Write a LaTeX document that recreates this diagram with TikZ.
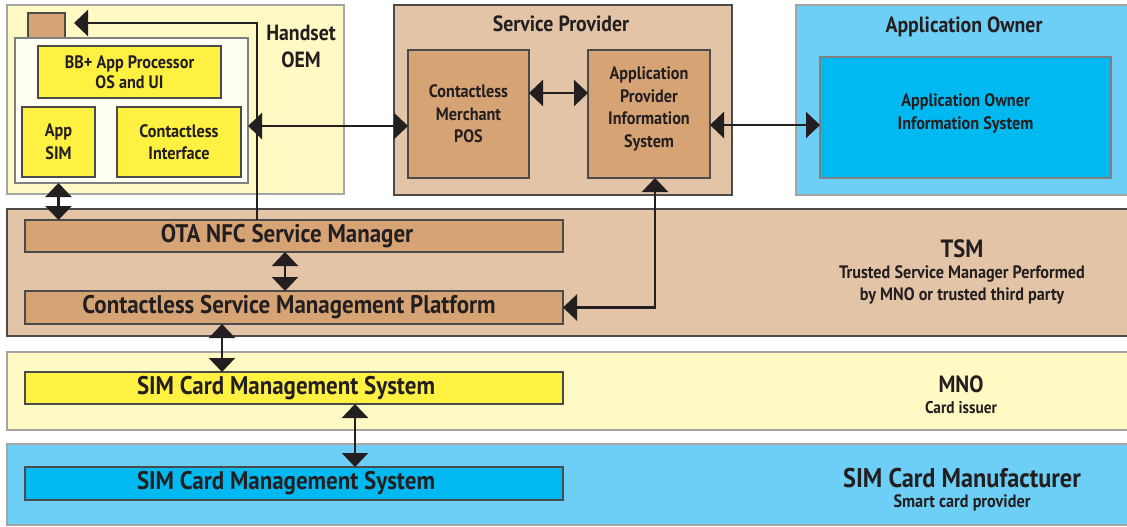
\documentclass[tikz,border=0pt]{standalone}
\usepackage{fontspec}
\setmainfont{PT Sans}[FakeStretch=0.9]
\usetikzlibrary{arrows.meta}
\usetikzlibrary{positioning}

\definecolor{paleyellow}{RGB}{255,249,196}
\definecolor{chipyellow}{RGB}{255,241,66}
\definecolor{tanband}{RGB}{227,196,166}
\definecolor{tanbox}{RGB}{214,163,117}
\definecolor{skyband}{RGB}{109,207,246}
\definecolor{cyanbox}{RGB}{0,185,240}
\definecolor{phonewhite}{RGB}{255,254,242}
\definecolor{ink}{RGB}{35,31,32}
\definecolor{rimgrey}{RGB}{165,165,165}
\definecolor{boxgrey}{RGB}{75,75,75}

\tikzset{
  panel/.style={draw=rimgrey,line width=1.6pt,inner sep=0pt,outer sep=0pt},
  frame/.style={draw=boxgrey,line width=1.4pt,inner sep=0pt,outer sep=0pt,text=ink},
  unit/.style={frame,align=center,font=\bfseries\fontsize{18}{22.5}\selectfont},
  bar/.style={frame,font=\bfseries\fontsize{25.5}{28}\selectfont},
  tag/.style={text=ink,align=center,inner sep=0pt,anchor=base},
  link/.style={line width=2.6pt,draw=ink,<->},
  feed/.style={line width=2.6pt,draw=ink,->}
}

\begin{document}
\begin{tikzpicture}[x=1pt,y=-1pt,>={Triangle[width=26pt,length=14pt]}]
\useasboundingbox (0,0) rectangle (1127,527);

% top row: handset, service provider, application owner
\node[panel,fill=paleyellow,minimum width=337pt,minimum height=189pt] (oem) at (175.5,99.5) {};
% multi-line tags sit on the baseline of their last line
\node[tag,font=\bfseries\fontsize{22}{27}\selectfont] (oemtag) at (301,67) {Handset\\OEM};
\node[frame,fill=tanbox,minimum width=37pt,minimum height=26pt] (chip) at (46.5,26) {};
\node[panel,fill=phonewhite,draw=gray,minimum width=233pt,minimum height=145pt] (phone) at (131.5,110.5) {};
\node[unit,fill=chipyellow,minimum width=183pt,minimum height=52pt,font=\bfseries\fontsize{18}{20}\selectfont] (bbapp) at (129.5,72) {BB+ App Processor\\OS and UI};
\node[unit,fill=chipyellow,minimum width=73pt,minimum height=70pt] (appsim) at (58.5,142) {App\\SIM};
\node[unit,fill=chipyellow,minimum width=124pt,minimum height=70pt] (cif) at (179,142) {Contactless\\Interface};

\node[panel,fill=tanband,draw=boxgrey,minimum width=338pt,minimum height=190pt] (sp) at (563,100) {};
\node[tag,font=\bfseries\fontsize{22}{24}\selectfont] (sptag) at (561,32) {Service Provider};
\node[unit,fill=tanbox,minimum width=121pt,minimum height=128pt] (pos) at (468.5,114) {Contactless\\Merchant\\POS};
\node[unit,fill=tanbox,minimum width=122pt,minimum height=128pt] (apis) at (649,114) {Application\\Provider\\Information\\System\\[-9pt]};

\node[panel,fill=skyband,minimum width=334pt,minimum height=190pt] (ao) at (963,100) {};
\node[tag,font=\bfseries\fontsize{22}{24}\selectfont] (aotag) at (964,33) {Application Owner};
\node[unit,fill=cyanbox,draw=gray,minimum width=291pt,minimum height=121pt] (aois) at (965.5,117.5) {Application Owner\\Information System\\[-11pt]};

% bands
\node[panel,fill=tanband,draw=boxgrey,minimum width=1125pt,minimum height=127pt] (tsm) at (569.5,272.5) {};
\node[bar,fill=tanbox,minimum width=538pt,minimum height=32pt] (ota) at (294,236) {OTA NFC Service Manager\hspace*{14pt}};
\node[bar,fill=tanbox,minimum width=538pt,minimum height=33pt] (csmp) at (294,307.5) {Contactless Service Management Platform\hspace*{10pt}};
\node[tag,font=\bfseries\fontsize{25}{26}\selectfont] (tsmtag) at (962,257) {TSM};
\node[tag,font=\bfseries\fontsize{18}{22}\selectfont] (tsmnote) at (962,300) {Trusted Service Manager Performed\\by MNO or trusted third party};

\node[panel,fill=paleyellow,minimum width=1125pt,minimum height=78pt] (mno) at (569.5,391) {};
\node[bar,fill=chipyellow,minimum width=538pt,minimum height=32pt] (mnosim) at (294,388) {SIM Card Management System\hspace*{16pt}};
\node[tag,font=\bfseries\fontsize{23.5}{26}\selectfont] (mnotag) at (961,392) {MNO};
\node[tag,font=\bfseries\fontsize{17}{18}\selectfont] (mnonote) at (961,413) {Card issuer};

\node[panel,fill=skyband,minimum width=1125pt,minimum height=81pt] (mfr) at (569.5,484.5) {};
\node[bar,fill=cyanbox,minimum width=538pt,minimum height=33pt] (mfrsim) at (294,483.5) {SIM Card Management System\hspace*{16pt}};
\node[tag,font=\bfseries\fontsize{27}{28}\selectfont] (mfrtag) at (962,487) {SIM Card Manufacturer};
\node[tag,font=\bfseries\fontsize{18}{18}\selectfont] (mfrnote) at (962,507) {Smart card provider};

% connectors
\coordinate (riser) at (257,23);
\draw[feed,shorten >=9pt] (ota.north -| riser) -- (riser) -- (riser -| chip.east);
\draw[link] (phone.south -| appsim.south) -- (ota.north -| appsim.south);
\draw[link] ([yshift=-15.5pt]phone.east) -- ([yshift=-15.5pt]phone.east -| pos.west);
\draw[link] ([yshift=21pt]pos.east) -- ([yshift=21pt]pos.east -| apis.west);
\draw[link] ([yshift=-11pt]apis.east) -- ([yshift=-11pt]apis.east -| aois.west);
\draw[link] ([xshift=-9pt]ota.south) -- ([xshift=-9pt]csmp.north);
\draw[link] ([xshift=6pt]apis.south) |- (csmp.east);
\draw[link] ([xshift=-72pt]csmp.south) -- ([xshift=-72pt]mnosim.north);
\draw[link] ([xshift=61pt]mnosim.south) -- ([xshift=61pt]mfrsim.north);

\end{tikzpicture}
\end{document}
